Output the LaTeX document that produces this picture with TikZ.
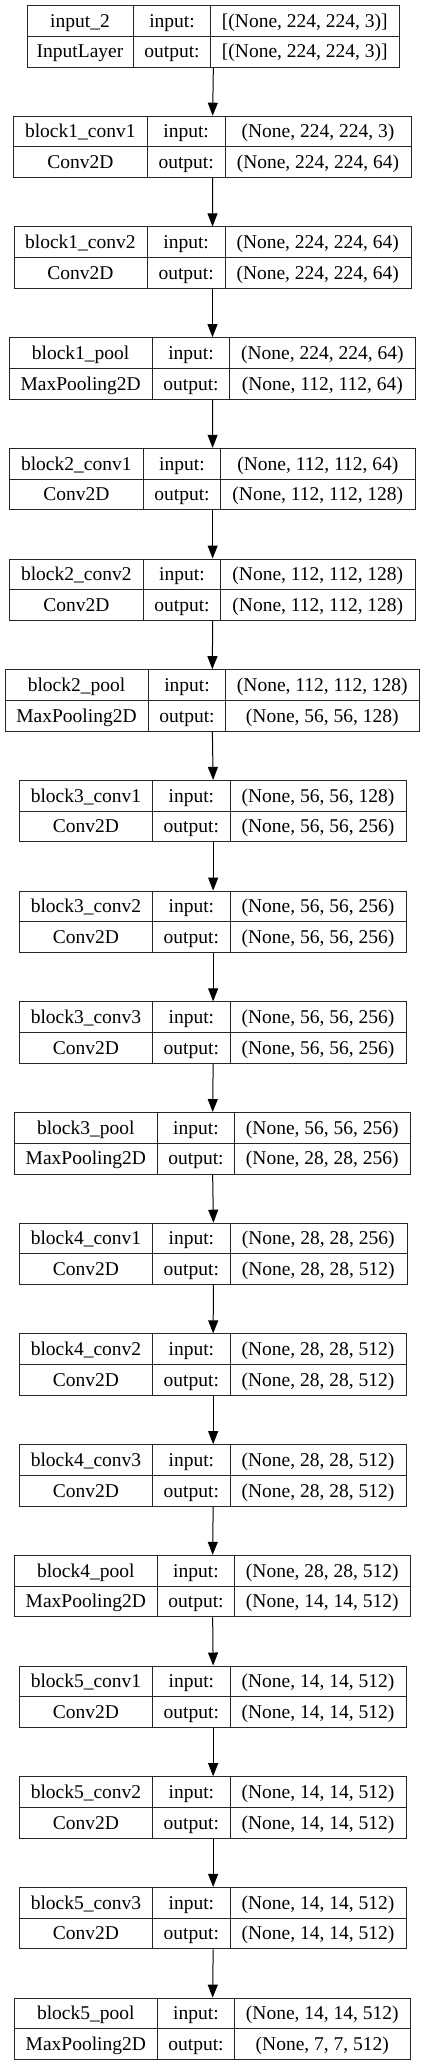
\documentclass[tikz,border=0pt]{standalone}
\usepackage{fontspec}
\setmainfont{Liberation Serif}
\usetikzlibrary{arrows.meta}

\tikzset{
  layerbox/.style={draw=black!85,line width=1pt,inner sep=0pt,anchor=north west,minimum height=61.5pt},
  rule/.style={draw=black!85,line width=1pt},
  cell/.style={anchor=base,inner sep=0pt,font=\fontsize{19.5}{23}\selectfont},
  flow/.style={draw=black,line width=1pt,-{Triangle[length=13pt,width=10pt]}}
}

\newcommand{\layer}[9]{%
  \pgfmathsetmacro{\ltop}{5+110.7*(#1-1)}%
  \pgfmathsetmacro{\lwd}{#5-#2}%
  \node[layerbox,minimum width=\lwd pt] (l#1) at (#2,\ltop) {};
  \draw[rule] (l#1.west) -- (l#1.east);
  \draw[rule] (#3,\ltop) -- (#3,\ltop+61.5);
  \draw[rule] (#4,\ltop) -- (#4,\ltop+61.5);
  \node[cell] at ({(#2+#3)/2},\ltop+22.2) {#6};
  \node[cell] at ({(#2+#3)/2},\ltop+52.9) {#7};
  \node[cell] at ({(#3+#4)/2},\ltop+22.2) {input:};
  \node[cell] at ({(#3+#4)/2},\ltop+52.9) {output:};
  \node[cell] at ({(#4+#5)/2},\ltop+22.2) {#8};
  \node[cell] at ({(#4+#5)/2},\ltop+52.9) {#9};
}

\begin{document}
\begin{tikzpicture}[x=1pt,y=-1pt]
  \useasboundingbox (0,0) rectangle (425,2065);
  \layer{1}{26.7}{133.3}{210.7}{399}{input\_2}{InputLayer}{[(None, 224, 224, 3)]}{[(None, 224, 224, 3)]}
  \layer{2}{13.3}{147.3}{225}{411}{block1\_conv1}{Conv2D}{(None, 224, 224, 3)}{(None, 224, 224, 64)}
  \layer{3}{13.5}{147.3}{225}{410.5}{block1\_conv2}{Conv2D}{(None, 224, 224, 64)}{(None, 224, 224, 64)}
  \layer{4}{9}{152.3}{229.7}{415}{block1\_pool}{MaxPooling2D}{(None, 224, 224, 64)}{(None, 112, 112, 64)}
  \layer{5}{9.3}{143.3}{220.7}{415}{block2\_conv1}{Conv2D}{(None, 112, 112, 64)}{(None, 112, 112, 128)}
  \layer{6}{9.3}{143.3}{220.7}{415}{block2\_conv2}{Conv2D}{(None, 112, 112, 128)}{(None, 112, 112, 128)}
  \layer{7}{4.7}{148.3}{225.7}{419}{block2\_pool}{MaxPooling2D}{(None, 112, 112, 128)}{(None, 56, 56, 128)}
  \layer{8}{19.3}{152.7}{230}{406}{block3\_conv1}{Conv2D}{(None, 56, 56, 128)}{(None, 56, 56, 256)}
  \layer{9}{19.3}{152.7}{230}{406}{block3\_conv2}{Conv2D}{(None, 56, 56, 256)}{(None, 56, 56, 256)}
  \layer{10}{19.3}{152.7}{230}{406}{block3\_conv3}{Conv2D}{(None, 56, 56, 256)}{(None, 56, 56, 256)}
  \layer{11}{14.3}{157.3}{234.7}{410}{block3\_pool}{MaxPooling2D}{(None, 56, 56, 256)}{(None, 28, 28, 256)}
  \layer{12}{19.3}{152.7}{230}{406.5}{block4\_conv1}{Conv2D}{(None, 28, 28, 256)}{(None, 28, 28, 512)}
  \layer{13}{19.3}{152.7}{230}{406}{block4\_conv2}{Conv2D}{(None, 28, 28, 512)}{(None, 28, 28, 512)}
  \layer{14}{19.3}{152.7}{230}{406}{block4\_conv3}{Conv2D}{(None, 28, 28, 512)}{(None, 28, 28, 512)}
  \layer{15}{14.3}{157.3}{234.7}{410}{block4\_pool}{MaxPooling2D}{(None, 28, 28, 512)}{(None, 14, 14, 512)}
  \layer{16}{19.3}{152.7}{230}{406}{block5\_conv1}{Conv2D}{(None, 14, 14, 512)}{(None, 14, 14, 512)}
  \layer{17}{19.3}{152.7}{230}{406}{block5\_conv2}{Conv2D}{(None, 14, 14, 512)}{(None, 14, 14, 512)}
  \layer{18}{19.3}{152.7}{230}{406}{block5\_conv3}{Conv2D}{(None, 14, 14, 512)}{(None, 14, 14, 512)}
  \layer{19}{14.3}{157.3}{234.7}{410}{block5\_pool}{MaxPooling2D}{(None, 14, 14, 512)}{(None, 7, 7, 512)}
  \draw[flow] (l1.south) -- (l2.north);
  \draw[flow] (l2.south) -- (l3.north);
  \draw[flow] (l3.south) -- (l4.north);
  \draw[flow] (l4.south) -- (l5.north);
  \draw[flow] (l5.south) -- (l6.north);
  \draw[flow] (l6.south) -- (l7.north);
  \draw[flow] (l7.south) -- (l8.north);
  \draw[flow] (l8.south) -- (l9.north);
  \draw[flow] (l9.south) -- (l10.north);
  \draw[flow] (l10.south) -- (l11.north);
  \draw[flow] (l11.south) -- (l12.north);
  \draw[flow] (l12.south) -- (l13.north);
  \draw[flow] (l13.south) -- (l14.north);
  \draw[flow] (l14.south) -- (l15.north);
  \draw[flow] (l15.south) -- (l16.north);
  \draw[flow] (l16.south) -- (l17.north);
  \draw[flow] (l17.south) -- (l18.north);
  \draw[flow] (l18.south) -- (l19.north);
\end{tikzpicture}
\end{document}
